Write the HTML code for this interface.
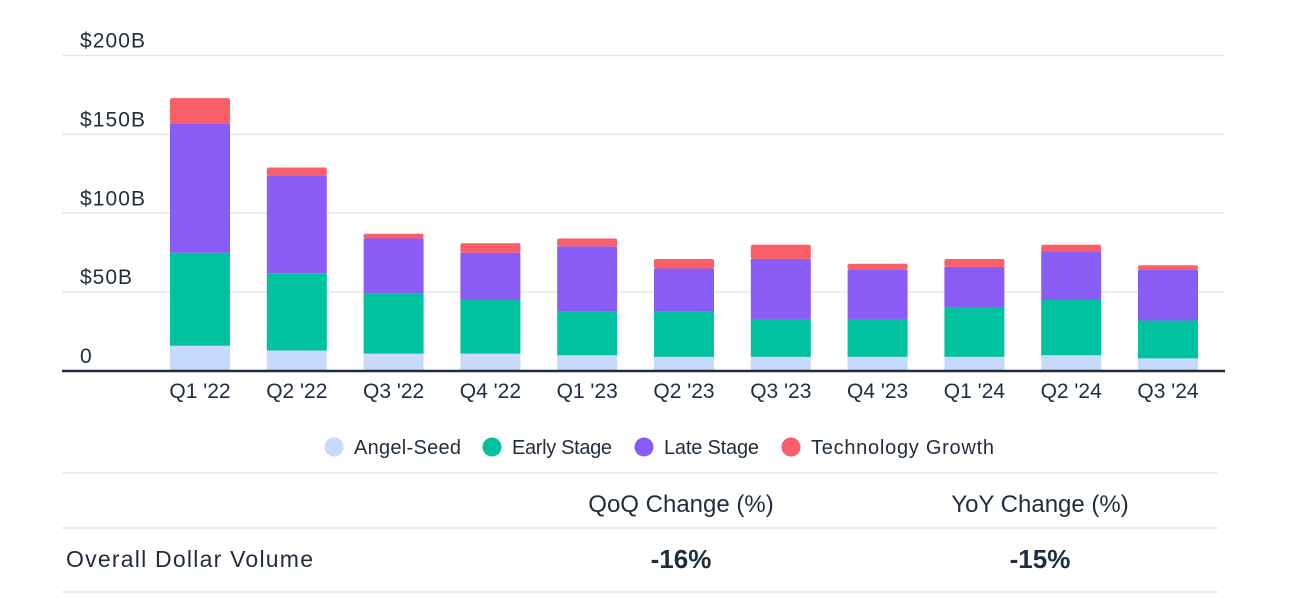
<!DOCTYPE html>
<html><head><meta charset="utf-8"><style>
body{margin:0;background:#fff;width:1292px;height:606px;overflow:hidden;font-family:"Liberation Sans",sans-serif;color:#1f2d3d}
svg{position:absolute;left:0;top:0}
</style></head><body>
<svg width="1292" height="606" id="svg"></svg>
<script>
const categories=["Q1 '22","Q2 '22","Q3 '22","Q4 '22","Q1 '23","Q2 '23","Q3 '23","Q4 '23","Q1 '24","Q2 '24","Q3 '24"];
const angelSeed=[16,13,11,11,10,9,9,9,9,10,8];
const earlyStage=[59,49,38,34,28,29,24,24,31,35,24];
const lateStage=[82,62,35,30,41,27,38,31,26,31,32];
const techGrowth=[16,5,3,6,5,6,9,4,5,4,3];
const yTicks=[0,50,100,150,200];
const yTickLabels=["0","$50B","$100B","$150B","$200B"];
const seriesNames=["Angel-Seed","Early Stage","Late Stage","Technology Growth"];
const colors=["#c8dafb","#00c29f","#8a5cf6","#f85f69"];
const series=[angelSeed,earlyStage,lateStage,techGrowth];
const NS="http://www.w3.org/2000/svg";
const svg=document.getElementById('svg');
const y=v=>371-v*1.5775;
const x=i=>200+i*96.8;
function el(t,a,txt){const e=document.createElementNS(NS,t);for(const k in a)e.setAttribute(k,a[k]);if(txt!=null)e.textContent=txt;svg.appendChild(e);return e;}
yTicks.forEach((t,i)=>{
 if(t>0){const g=el('line',{x1:62,x2:1225,y1:y(t),y2:y(t),stroke:'#e6e8ea','stroke-width':1.5});
 }
 const l=el('text',{x:80,y:y(t)-8,'font-size':21,fill:'#1f2d3d','textLength':[13,52,65,65,65][i]},yTickLabels[i]);
 
});
categories.forEach((c,i)=>{
 let base=0;
 const tot=series.reduce((s,a)=>s+a[i],0);
 series.forEach((s,k)=>{
  const top=base+s[i];
  const r=el('rect',{x:x(i)-30,y:y(top),width:60,height:y(base)-y(top),fill:colors[k],rx:(top===tot?2:0)});
  
  
  base=top;
 });
 const t=el('text',{x:x(i),y:398,'font-size':21,'text-anchor':'middle',fill:'#1f2d3d'},c);
 
});
const ax=el('line',{x1:62,x2:1225,y1:371,y2:371,stroke:'#1f2d3d','stroke-width':2.5});

const lx=[334,492,644,791];
const lw=[107,100,95,183];
seriesNames.forEach((n,k)=>{
 const c=el('circle',{cx:lx[k],cy:447,r:9.5,fill:colors[k]});
 
 const t=el('text',{x:lx[k]+20,y:454,'font-size':20,fill:'#1f2d3d',textLength:lw[k]},n);
 
});
[473,528,592].forEach(yy=>{const l=el('line',{x1:62,x2:1218,y1:yy,y2:yy,stroke:'#e3e5e8','stroke-width':1.5});
 });
[["QoQ Change (%)",681,512,24,400],["YoY Change (%)",1040,512,24,400],["-16%",681,568,26,700],["-15%",1040,568,26,700]].forEach(a=>{
 const t=el('text',{x:a[1],y:a[2],'font-size':a[3],'font-weight':a[4],'text-anchor':'middle',fill:'#1f2d3d'},a[0]);
 
});
const rl=el('text',{x:66,y:567,'font-size':23,fill:'#1f2d3d',textLength:247},"Overall Dollar Volume");

</script>
</body></html>
